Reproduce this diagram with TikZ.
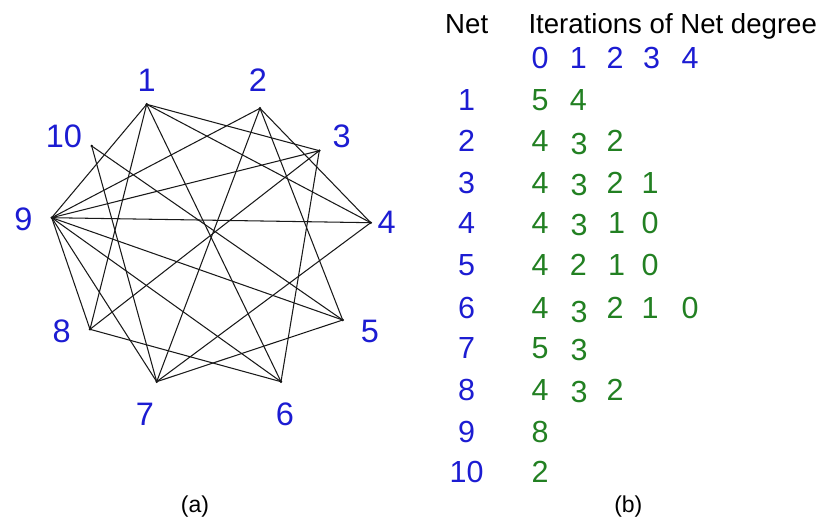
\documentclass[tikz,border=0pt]{standalone}
\usepackage{fontspec}
\setmainfont{Liberation Sans}
\definecolor{lblblue}{RGB}{28,28,210}
\definecolor{itgreen}{RGB}{34,128,34}
\begin{document}
\begin{tikzpicture}[x=1pt,y=-1pt,
  vtx/.style={circle,fill=black,inner sep=0pt,minimum size=2.8pt},
  lbl/.style={text=lblblue,font=\fontsize{32.5}{36}\selectfont,inner sep=0pt},
  edg/.style={line width=1.05pt,black!90},
  hdr/.style={text=black,font=\fontsize{27.6}{30}\selectfont,inner sep=0pt},
  bnum/.style={text=lblblue,font=\fontsize{30.5}{34}\selectfont,inner sep=0pt},
  gnum/.style={text=itgreen,font=\fontsize{30.5}{34}\selectfont,inner sep=0pt},
  captext/.style={text=black,font=\fontsize{23}{26}\selectfont,inner sep=0pt}]
\useasboundingbox (0,0) rectangle (820,525);
% vertices
\node[vtx] (v1) at (146.7,104.3) {};
\node[vtx] (v2) at (260,108.3) {};
\node[vtx] (v3) at (319.3,150.7) {};
\node[vtx] (v4) at (370.7,222.7) {};
\node[vtx] (v5) at (342.7,320) {};
\node[vtx] (v6) at (281,381.7) {};
\node[vtx] (v7) at (156.7,381.7) {};
\node[vtx] (v8) at (90,329.3) {};
\node[vtx] (v9) at (51.7,217.7) {};
\node[vtx] (v10) at (91.7,146) {};
% vertex labels
\node[lbl] (l1) at (146.7,80) {1};
\node[lbl] (l2) at (258,80) {2};
\node[lbl] (l3) at (341.7,136) {3};
\node[lbl] (l4) at (386.7,222) {4};
\node[lbl] (l5) at (370,331) {5};
\node[lbl] (l6) at (285,414) {6};
\node[lbl] (l7) at (145,414) {7};
\node[lbl] (l8) at (61.7,331) {8};
\node[lbl] (l9) at (23.3,219) {9};
\node[lbl] (l10) at (64,136) {10};
% edges
\foreach \a/\b in {1/9,1/8,1/6,1/3,1/4,2/9,2/7,2/5,2/4,3/9,3/8,3/6,4/9,4/7,5/9,5/7,5/10,6/9,6/8,7/9,7/10,8/9}
  \draw[edg] (v\a.center) -- (v\b.center);
\node[captext] (capa) at (195,507) {(a)};
% table
\node[hdr,anchor=base] (hnet) at (466.7,33.3) {Net};
\node[hdr,anchor=base west] (hit) at (528.3,33.3) {Iterations of Net degree};
\foreach \c/\x in {0/540,1/578.3,2/615,3/651.7,4/690}
  \node[bnum] (it\c) at (\x,58.3) {\c};
\foreach \r/\y in {1/100,2/141,3/183,4/223.3,5/265,6/308.3,7/348.3,8/390,9/431.7,10/471.7}
  \node[bnum] (net\r) at (466.7,\y) {\r};
% green iteration values
\node[gnum] (g1a) at (540,100) {5};
\node[gnum] (g1b) at (578.3,100) {4};
\node[gnum] (g2a) at (540,141) {4};
\node[gnum] (g2b) at (579,143.5) {3};
\node[gnum] (g2c) at (615,141) {2};
\node[gnum] (g3a) at (540,183) {4};
\node[gnum] (g3b) at (579,185) {3};
\node[gnum] (g3c) at (615,183) {2};
\node[gnum] (g3d) at (650,183) {1};
\node[gnum] (g4a) at (540,223.3) {4};
\node[gnum] (g4b) at (579,225) {3};
\node[gnum] (g4c) at (616.7,223.3) {1};
\node[gnum] (g4d) at (650,223.3) {0};
\node[gnum] (g5a) at (540,265) {4};
\node[gnum] (g5b) at (578.3,265) {2};
\node[gnum] (g5c) at (616.7,265) {1};
\node[gnum] (g5d) at (650,265) {0};
\node[gnum] (g6a) at (540,308.3) {4};
\node[gnum] (g6b) at (579,311.5) {3};
\node[gnum] (g6c) at (615,308.3) {2};
\node[gnum] (g6d) at (650,308.3) {1};
\node[gnum] (g6e) at (690,308.3) {0};
\node[gnum] (g7a) at (540,348.3) {5};
\node[gnum] (g7b) at (579,350) {3};
\node[gnum] (g8a) at (540,390) {4};
\node[gnum] (g8b) at (579,392) {3};
\node[gnum] (g8c) at (615,390) {2};
\node[gnum] (g9a) at (540,431.7) {8};
\node[gnum] (g10a) at (540,471.7) {2};
\node[captext] (capb) at (628.3,507) {(b)};
\end{tikzpicture}
\end{document}
